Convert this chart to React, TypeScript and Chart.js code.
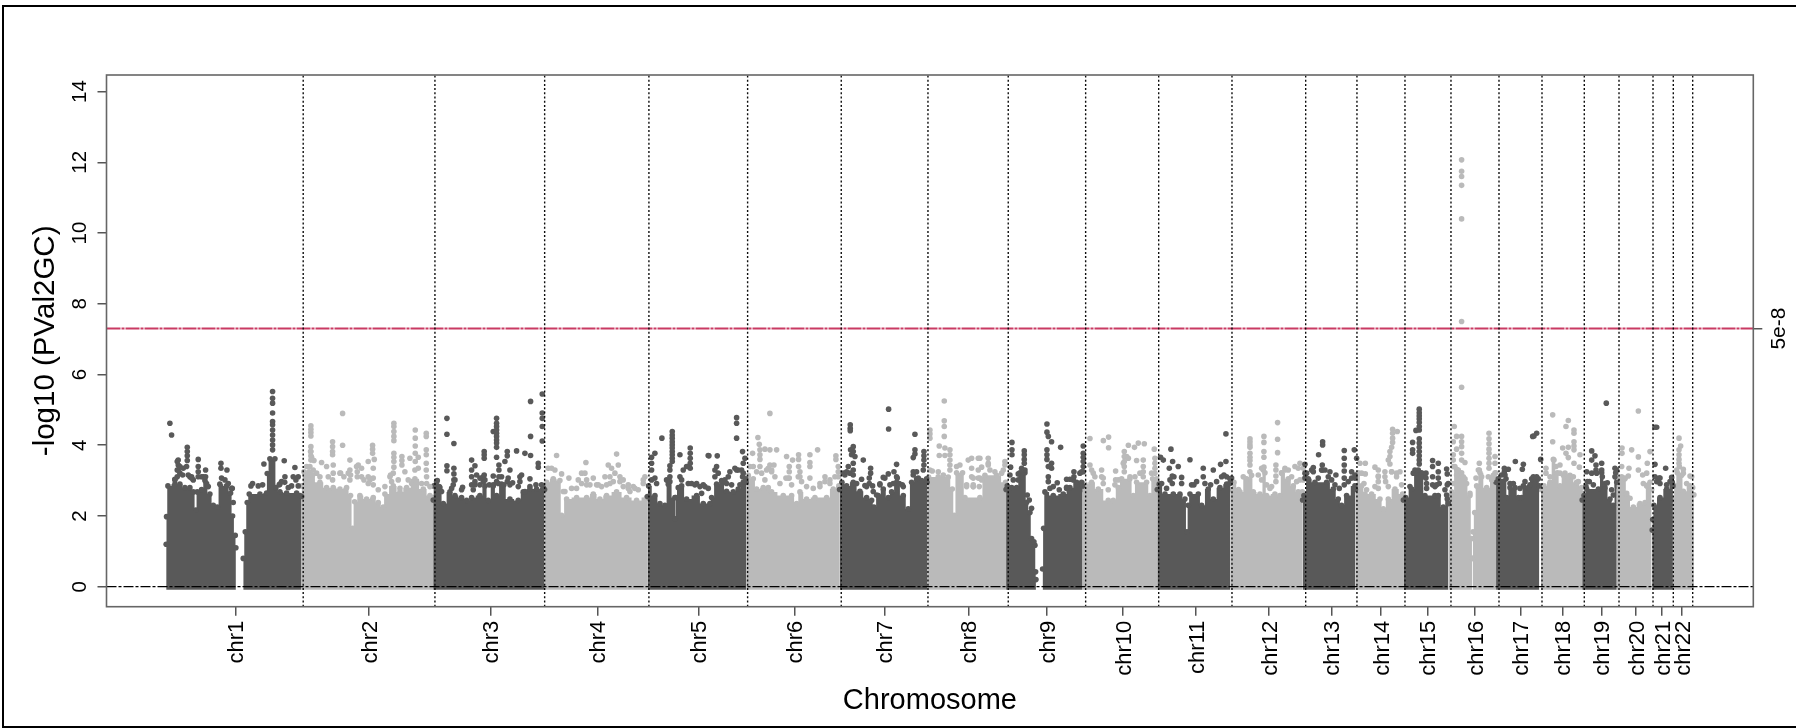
import React, { useEffect, useRef } from "react";
import { Chart, registerables } from "chart.js";

Chart.register(...registerables);

const chromosomeNames = ["chr1","chr2","chr3","chr4","chr5","chr6","chr7","chr8","chr9","chr10","chr11","chr12","chr13","chr14","chr15","chr16","chr17","chr18","chr19","chr20","chr21","chr22"];
const chromosomeCentres = [127.3,373,595.6,792.3,977,1153,1318.7,1473,1616.5,1756.5,1890,2024,2139.3,2229.7,2315.4,2401.8,2486,2562.6,2633.6,2697.4,2745,2782];
const chromosomeBoundaries = [251.9,493.6,694.9,886.2,1067.3,1239.1,1398.2,1545.5,1687.5,1821.5,1956,2091.2,2185.3,2273.4,2357.8,2445.9,2524.8,2602.4,2666.1,2728.5,2765.7,2801.3];
const yTickValues = [0,2,4,6,8,10,12,14];
const genomeWideLine = 7.3;
const genomeWideLabel = "5e-8";

// Upper edge of the dense mass of SNPs: [genome position in Mb, -log10 p]
const chr1Left = [[0.5,1.2],[1.2,1.98],[3.7,2.85],[16.5,2.9],[25.7,2.9],[34.9,2.8],[44,2.8],[50.2,2.68],[55,2.17],[57.5,2.68],[65.5,2.75],[71.6,3.0],[80.7,2.62],[86.9,2.3],[94.2,2.25],[99,2.9],[111.3,2.85],[118.7,2.65],[122.3,2.0],[127.2,1.45],[128.4,1.1]];
const chr1Right = [[141.9,0.8],[145.6,1.55],[149.2,2.38],[152.9,2.62],[172.5,2.62],[184.7,2.65],[185.9,3.2],[190.8,3.62],[200,3.62],[201.8,2.8],[209.2,2.68],[221.4,2.65],[239.8,2.65],[245.9,2.58],[249,2.55]];
const chr2 = [[249,2.85],[253.2,3.25],[264.2,3.22],[282.6,2.95],[294.8,2.8],[307,2.8],[319.3,2.76],[331.5,2.8],[338.8,2.58],[342.5,1.65],[346.2,2.4],[356,2.58],[368.2,2.48],[380.4,2.52],[389.6,2.38],[398.8,2.25],[401.8,2.62],[417.1,2.85],[429.4,2.68],[441.6,2.8],[456.9,3.05],[472.2,2.76],[484.4,2.58],[490.5,2.52],[491.7,2.45]];
const chr3 = [[490.5,2.45],[491.7,2.85],[497.9,3.0],[502.7,2.8],[508.9,2.35],[521.1,2.68],[530.3,2.58],[542.5,2.52],[551.7,2.44],[560.9,2.52],[576.1,2.58],[585.3,2.85],[591.4,2.44],[600.6,2.85],[606.7,2.58],[615.9,2.9],[631.2,2.48],[646.5,2.44],[655.6,2.68],[667.9,2.76],[680.1,2.76],[692.3,2.8],[694.8,2.75]];
const chr4 = [[695,2.85],[698.5,2.95],[710.7,3.05],[722.9,3.0],[726,2.02],[735.2,2.48],[753.5,2.52],[771.9,2.52],[784.1,2.62],[796.3,2.48],[808.5,2.58],[826.9,2.68],[845.2,2.52],[863.6,2.44],[881.9,2.52],[883.5,2.5]];
const chr5 = [[883.5,2.55],[885.6,2.85],[897.2,2.58],[906.4,2.35],[915.6,2.3],[921.7,2.9],[933.9,2.52],[934.5,1.92],[935.5,2.52],[940,2.8],[946.2,2.85],[955.3,2.48],[973.7,2.58],[985.9,2.35],[998.1,2.35],[1001.2,2.52],[1010.4,2.9],[1019.6,3.0],[1028.7,2.7],[1041,2.68],[1050.1,2.76],[1059.3,2.95],[1063.6,3.05],[1064.5,2.95]];
const chr6 = [[1064.5,2.95],[1068.5,3.15],[1077.7,3.05],[1083.8,2.76],[1096,2.8],[1105.2,2.8],[1111.3,2.68],[1132.7,2.58],[1148,2.58],[1157.2,2.35],[1163.3,2.68],[1175.5,2.48],[1190.8,2.52],[1212.2,2.52],[1224.4,2.76],[1234.8,2.85],[1236,2.75]];
const chr7 = [[1236,2.75],[1240.3,2.95],[1248.9,2.85],[1261.1,2.95],[1273.4,2.7],[1285.6,2.52],[1294.8,2.44],[1299.1,2.25],[1307,2.58],[1316.2,2.76],[1325.4,2.52],[1331.5,2.68],[1340.6,2.95],[1352.9,2.58],[1362,2.2],[1368.2,2.95],[1377.3,3.05],[1386.5,3.0],[1395.7,3.05],[1396.5,2.95]];
const chr8 = [[1396.5,2.95],[1399.3,3.1],[1435.4,3.1],[1442.8,2.76],[1446.5,2.02],[1450.7,3.22],[1461.7,3.22],[1466,2.52],[1493.5,2.52],[1502.7,3.15],[1524.1,3.15],[1540.6,2.95],[1541.5,2.85]];
const chr9Left = [[1541.5,2.75],[1543.7,2.85],[1551.7,2.8],[1560.8,2.8],[1566.9,3.22],[1576.1,3.22],[1579.2,2.38],[1585.3,2.1],[1588.3,1.36],[1594.5,1.17],[1595.7,0.42],[1596.3,0.2]];
const chr9Right = [[1608.5,0.5],[1610.4,1.65],[1612.8,2.68],[1628.1,2.58],[1646.4,2.62],[1658.7,2.8],[1670.9,2.95],[1680.1,2.95],[1682,2.85]];
const chr10 = [[1682,2.75],[1686.2,2.9],[1698.4,2.95],[1710.7,2.76],[1729,2.44],[1738.2,2.44],[1747.4,2.8],[1753.5,3.05],[1768.8,3.05],[1774.9,2.58],[1781,2.95],[1799.3,2.95],[1805.5,2.58],[1810.4,3.05],[1817.7,3.05],[1819,2.95]];
const chr11 = [[1819,2.75],[1822.6,2.9],[1833,2.62],[1848.3,2.62],[1860.5,2.62],[1869.7,2.48],[1873.4,1.55],[1875.8,2.3],[1878.9,2.62],[1894.2,2.62],[1900.3,2.3],[1912.5,2.76],[1921.7,2.48],[1933.9,2.8],[1946.1,2.9],[1952.2,3.05],[1953,2.95]];
const chr12 = [[1953,2.75],[1959.6,2.95],[1968,2.75],[1970.6,2.68],[1982.8,3.05],[1992,3.15],[1995,2.68],[2007.3,2.62],[2016.5,3.22],[2019.5,2.58],[2034.8,2.62],[2044,2.58],[2047,3.22],[2059.3,3.05],[2068.5,2.85],[2077.6,2.68],[2085,2.68],[2085.6,2.55]];
const chr13 = [[2085.6,2.45],[2088,2.58],[2096,3.05],[2108.2,2.95],[2129.6,2.95],[2141.8,2.76],[2151,2.48],[2157.1,2.3],[2166.3,2.58],[2181.6,2.85],[2182.5,2.75]];
const chr14 = [[2182.5,2.85],[2187.7,3.22],[2193.8,2.85],[2200,2.62],[2212.2,2.62],[2227.5,2.48],[2233.6,2.2],[2242.8,2.48],[2255,2.76],[2269.1,2.62],[2270.5,2.55]];
const chr15 = [[2270.5,2.45],[2274.6,2.52],[2285.6,2.76],[2294.7,3.22],[2303.9,3.22],[2310,2.58],[2328.4,2.58],[2334.5,2.58],[2343.7,2.25],[2351,2.48],[2353,2.35]];
const chr16Left = [[2353,2.55],[2359,2.68],[2368.1,3.32],[2377.3,3.22],[2383.4,3.05],[2392.6,2.58],[2395.7,1.36],[2396.9,0.8]];
const chr16Right = [[2397.6,0.8],[2398.2,1.55],[2401.3,2.1],[2404.9,2.85],[2411,3.22],[2423.3,2.8],[2435.5,3.15],[2439.8,3.22],[2440.5,3.05]];
const chr17 = [[2440.5,2.95],[2444.7,3.05],[2458.8,3.05],[2460,2.52],[2466.1,2.8],[2475.3,2.8],[2481.4,2.52],[2487.5,2.52],[2490.6,2.85],[2499.7,2.8],[2505.8,3.05],[2518.1,3.05],[2519.9,2.85]];
const chr18 = [[2523,2.75],[2528.5,2.85],[2539.5,2.95],[2545.6,3.6],[2552.9,3.22],[2557.8,2.85],[2564,3.15],[2576.2,3.15],[2588.4,2.95],[2597.6,2.8],[2598.5,2.65]];
const chr19 = [[2598.5,2.45],[2601.9,2.58],[2606.8,2.76],[2628.2,2.76],[2634.3,3.22],[2640.4,2.8],[2649.6,2.48],[2655.7,2.3],[2660,3.22],[2662,2.95]];
const chr20 = [[2662,2.85],[2667.3,3.05],[2677,3.05],[2680.2,2.58],[2692.4,2.25],[2704.6,2.35],[2713.8,2.38],[2716.8,2.85],[2723,2.95],[2726,2.75]];
const chr21 = [[2727,1.6],[2727.9,1.9],[2730.3,2.3],[2741.3,2.52],[2753.5,2.76],[2763.9,2.95],[2765,2.85]];
const chr22 = [[2765,2.45],[2769.4,2.85],[2773.1,3.22],[2781.1,3.15],[2784.1,2.7],[2796.4,2.85],[2801.3,2.8],[2803.5,2.6]];

// Individual SNPs standing above the mass: [genome position in Mb, -log10 p]
const chr1Snps = [[7.3,4.62],[10.4,4.29],[39.2,3.94],[39.2,3.82],[39.2,3.7],[39.2,3.57],[22.6,3.58],[22.6,3.44],[22.6,3.3],[25.7,3.4],[31.8,3.35],[37.9,3.4],[59.3,3.6],[59.3,3.4],[59.3,3.25],[59.3,3.11],[72.8,3.3],[101,3.49],[101,3.35],[112,3.3],[121.7,2.78],[123.5,2.38],[16.5,3.04],[44,3.11],[47,3.07],[195.7,5.52],[195.7,5.33],[195.7,5.19],[195.7,4.91],[195.7,4.67],[195.7,4.58],[195.7,4.43],[195.7,4.29],[195.7,4.15],[195.7,4.01],[195.7,3.87],[217.1,3.56],[236.7,3.37],[179.8,3.47],[159,2.92],[156,2.85],[169.4,2.85],[177.4,2.88],[218.4,3.11],[212.2,2.97],[208,2.88],[233.6,3.11],[242.8,3.11],[238.5,3.02]];
const chr1Shoulder = [[20.8,3.54],[20.8,3.3],[20.8,3.11],[25.7,3.21],[30.6,3.16],[16.5,3.02],[41,3.16],[47.1,3.11],[50.2,3.02],[65.5,3.11],[68.5,3.11],[72.8,3.11],[74.6,2.92],[77.7,2.83],[102.1,3.07],[108.3,3.02],[114.4,2.92],[120.5,2.78],[209,2.9],[218,2.95],[224.5,2.8],[230.6,2.85],[242.8,2.85]];
const chr2Snps = [[266,4.55],[266,4.45],[266,4.36],[266,4.26],[266,3.96],[266,3.82],[266,3.7],[266,3.58],[324.2,4.9],[324.2,4],[305.8,4.1],[305.8,3.96],[305.8,3.82],[305.8,3.73],[285.6,3.51],[294.8,3.4],[307,3.44],[337.6,3.58],[319.3,3.21],[337.6,3.3],[352.9,3.44],[359,3.35],[379.2,4],[379.2,3.89],[379.2,3.77],[382.3,3.6],[371.2,3.54],[380.4,3.35],[371.2,3.11],[380.4,3.07],[418.3,4.62],[418.3,4.53],[418.3,4.39],[418.3,4.25],[418.3,4.13],[418.3,3.77],[418.3,3.66],[418.3,3.54],[418.3,3.38],[433,3.68],[433,3.57],[433,3.44],[412.2,3.16],[438.5,3.25],[447.7,3.63],[457.5,4.43],[457.5,4.2],[457.5,3.98],[457.5,3.77],[463,3.66],[457.5,3.54],[477.7,4.34],[477.7,4.25],[477.7,3.87],[477.7,3.73],[477.7,3.49],[477.7,3.3],[401.8,2.83]];
const chr2Shoulder = [[258.1,3.4],[264.2,3.4],[270.3,3.3],[276.5,3.21],[282.6,3.11],[262.4,3.25],[269.1,3.16],[267.3,3.66],[271.6,3.57],[265.4,3.82],[297.9,3.11],[307,3.21],[305.8,3.02],[320.5,3.21],[326.6,3.11],[334.6,3.21],[338.8,3.16],[337.6,3.02],[349.8,3.4],[351.1,3.25],[351.1,3.11],[359,3.11],[363.3,3.02],[371.2,2.92],[374.3,3.02],[380.4,2.88],[389.6,2.74],[411,3.11],[417.1,3.21],[414.1,2.97],[426.3,3.02],[429.4,2.78],[444.6,3.02],[450.8,2.92],[456.9,3.3],[463,3.35],[459.9,2.97],[469.1,2.92],[478.3,3.11],[478.3,2.92],[484.4,2.83]];
const chr3Snps = [[515.6,4.76],[515.6,4.31],[528.4,4.05],[515.6,3.42],[515.6,3.28],[528.4,3.35],[528.4,3.19],[528.4,3.02],[544.3,2.81],[560.9,3.58],[567,3.42],[560.9,3.3],[560.9,3.11],[570,3.16],[567,2.97],[584,3.82],[584,3.73],[584,3.63],[584,3.16],[600.6,4.39],[606.7,4.76],[606.7,4.62],[606.7,4.53],[606.7,4.43],[606.7,4.34],[606.7,4.25],[606.7,4.15],[606.7,4.06],[606.7,3.94],[606.7,3.66],[611,3.44],[611,3.3],[611,3.11],[600.6,3.13],[626.3,3.82],[626.3,3.7],[622,3.54],[631.2,3.3],[628,3.07],[643.4,3.84],[658.7,3.77],[669.1,3.71],[683.2,3.49],[683.2,3.38],[669.1,5.24],[669.1,4.25],[690.5,5.45],[690.5,4.91],[690.5,4.76],[690.5,4.53],[690.5,4.12],[667.9,3.05],[649.5,3.11],[652.6,3.16]];
const chr3Shoulder = [[496.6,2.97],[501.5,2.83],[505.8,2.69],[527.2,2.88],[524.2,2.78],[530.3,3.02],[542.5,2.74],[560.9,2.88],[563.9,2.74],[567,2.88],[576.1,2.88],[582.3,2.97],[585.3,3.02],[576.1,3.07],[582.3,3.11],[593.3,2.88],[600.6,2.88],[606.7,2.97],[609.8,2.92],[615.9,3.11],[626.3,2.97],[620.2,2.88],[631.2,2.88],[636.1,2.94],[646.5,2.83],[649.5,2.97],[658.7,2.69],[667.9,2.83],[678.9,2.88],[689.3,2.88]];
const chr4Snps = [[716.8,3.71],[701.5,3.35],[707.6,3.35],[713.7,3.3],[726,3.19],[739.4,3.07],[770.6,3.51],[762.7,3.21],[768.8,3.21],[756.6,3.02],[771.9,3.02],[784.1,3.07],[793.3,2.88],[811.6,3.44],[817.7,3.35],[805.5,3.11],[826.9,3.75],[830,3.44],[823.8,3.21],[833,3.11],[839,3.02],[814.7,2.92],[848.3,2.88],[860.5,2.78],[875.8,3.02],[851.4,2.69]];
const chr4Shoulder = [[732.1,2.69],[744.3,2.78],[753.5,2.78],[762.7,2.92],[771.9,2.88],[778,2.88],[790.2,2.88],[799.4,2.83],[808.5,2.88],[814.7,3.11],[820.8,2.97],[833,2.97],[839.1,2.83],[848.3,2.78],[857.5,2.83],[866.6,2.74],[875.8,2.92],[878.9,3.11],[729,2.69]];
const chr5Snps = [[910,4.2],[929,4.39],[929,4.29],[929,4.2],[929,4.1],[929,4.01],[929,3.92],[929,3.82],[929,3.73],[929,3.63],[929,3.54],[924.7,3.42],[924.7,3.3],[924.7,3.11],[943.1,3.73],[897.2,3.77],[891.1,3.66],[891.1,3.49],[891.1,3.3],[897.2,3.07],[962,3.92],[962,3.77],[962,3.63],[962,3.49],[962,3.35],[949.2,3.3],[955.3,3.4],[995,3.71],[973.7,2.92],[985.9,2.88],[1047.1,4.78],[1047.1,4.62],[1047.1,4.2],[1058,3.82],[996.3,3.7],[1011.6,3.7],[1010.4,3.4],[1007.3,3.3],[1034.8,3.25],[1044,3.35],[1062.4,3.63],[1059.3,3.49],[1050.1,3.3],[1058,3.11],[1053.2,2.88],[1028.7,2.92]];
const chr5Shoulder = [[891.1,3.02],[900.3,2.92],[918.6,3.02],[924.7,2.97],[943.1,3.11],[946.2,3.02],[958.4,2.92],[964.5,2.92],[970.6,2.88],[979.8,2.83],[989,2.83],[995.1,2.78],[982.9,2.64],[1007.3,3.11],[1013.4,3.21],[1025.7,3.02],[1031.8,3.11],[1037.9,2.88],[1047.1,3.3],[1056.2,3.3],[1059.3,3.21],[1062.4,2.97]];
const chr6Snps = [[1108.2,4.9],[1086.2,4.22],[1088.7,4.03],[1076.4,3.77],[1089.9,3.87],[1099,3.89],[1108.2,3.87],[1120.5,3.87],[1089.9,3.73],[1089.9,3.6],[1089.9,3.4],[1108.2,3.44],[1115.6,3.44],[1102.1,3.3],[1111.3,3.3],[1138.8,3.68],[1149.8,3.58],[1160.8,3.73],[1160.8,3.6],[1160.8,3.4],[1163.3,3.25],[1163.3,3.11],[1143.7,3.4],[1143.7,3.25],[1137.6,3.07],[1143.7,3.07],[1181.6,3.73],[1181.6,3.51],[1181.6,3.4],[1181.6,3.07],[1195.7,3.87],[1209.2,3.11],[1200,2.92],[1218.3,3.02],[1229.3,3.7],[1229.3,3.6],[1233.6,3.4],[1233.6,3.25]];
const chr6Shoulder = [[1071.5,3.4],[1077.7,3.4],[1083.8,3.25],[1093,3.21],[1099,3.02],[1105.2,3.35],[1111.3,3.25],[1117.4,3.11],[1126.6,2.92],[1141.9,3.07],[1148,2.88],[1160.2,3.11],[1166.3,2.97],[1175.5,2.83],[1187.7,2.78],[1200,2.83],[1209.2,2.97],[1218.3,2.92],[1227.5,3.11],[1233.6,3.11]];
const chr7Snps = [[1255.6,4.58],[1255.6,4.48],[1255.6,4.41],[1261.1,3.96],[1261.1,3.82],[1256.2,3.87],[1264.2,3.68],[1258,3.73],[1279.5,3.58],[1261.1,3.49],[1252,3.4],[1261.1,3.3],[1249,3.25],[1293,3.35],[1293,3.21],[1290.5,3.07],[1276.4,3.04],[1340.6,3.46],[1326,5.02],[1326,4.46],[1374.3,4.31],[1374.3,3.87],[1374.3,3.75],[1371.2,3.65],[1390.8,3.82],[1390.8,3.7],[1390.8,3.58],[1390.8,3.44],[1335.8,3.25],[1325.4,3.19],[1316.2,3.09],[1341.9,3.07],[1371.2,3.25],[1377.3,3.25],[1282.5,2.86],[1296.6,2.85],[1310,2.91],[1351,2.88]];
const chr7Shoulder = [[1245.8,3.16],[1255,3.21],[1261.1,3.16],[1267.3,2.92],[1285.6,2.83],[1290.5,2.92],[1297.8,2.69],[1310,2.88],[1319.2,3.07],[1328.4,2.88],[1334.5,2.92],[1345.5,2.92],[1352.9,2.83],[1371.2,3.16],[1380.4,3.07],[1389.6,3.3],[1242.8,3.21],[1340.6,3.11],[1303.9,2.59]];
const chr8Snps = [[1428.1,5.25],[1428.1,4.69],[1428.1,4.53],[1428.1,4.25],[1401.8,4.43],[1401.8,4.32],[1401.8,4.2],[1418.9,3.98],[1429.3,3.92],[1418.9,3.71],[1429.3,3.71],[1438.5,3.87],[1438.5,3.73],[1438.5,3.58],[1438.5,3.44],[1438.5,3.3],[1406.1,3.27],[1417.1,3.25],[1472.1,3.58],[1478.3,3.63],[1490.5,3.63],[1478.3,3.35],[1469.1,2.83],[1481.3,2.88],[1493.5,3.63],[1508.8,3.63],[1496.6,3.38],[1481.3,3.07],[1493.5,3.07],[1508.8,3.49],[1539.4,3.54],[1539.4,3.44]];
const chr8Shoulder = [[1401.8,3.3],[1417.1,3.11],[1426.3,3.16],[1450.7,3.4],[1456.8,3.44],[1469.1,2.88],[1481.3,2.83],[1490.5,3.3],[1478.3,3.11],[1492.3,2.83],[1490.5,3.07],[1496.6,3.02],[1481.3,2.83],[1508.8,3.44],[1511.9,3.3],[1521,3.25],[1533.3,3.21],[1536.4,3.3]];
const chr9Snps = [[1552.3,4.08],[1552.3,3.87],[1552.3,3.73],[1549.8,3.38],[1574.9,3.84],[1574.9,3.73],[1574.9,3.6],[1574.9,3.49],[1570,3.35],[1563.9,3.19],[1616.5,4.6],[1616.5,4.37],[1619,4.25],[1625,4.1],[1641.6,3.94],[1616.5,3.87],[1616.5,3.73],[1616.5,3.6],[1625,3.49],[1625,3.35],[1619,3.4],[1619,3.11],[1635.4,2.94],[1652.6,3.04],[1658.7,3.04],[1666,3.25],[1666,3.11],[1683.1,3.98],[1683.1,3.77],[1683.1,3.66],[1683.1,3.54],[1683.1,3.4],[1680.1,3.25],[1652.6,2.81]];
const chr9Shoulder = [[1548.6,3.16],[1554.7,3.02],[1563.9,3.02],[1570,3.21],[1576.1,3.3],[1580.4,2.59],[1584.1,2.45],[1588.3,2.22],[1592.6,1.27],[1619,2.97],[1622,2.78],[1628.1,2.83],[1639.1,2.74],[1652.6,2.78],[1664.8,3.02],[1677,3.21],[1683.1,3.25]];
const chr10Snps = [[1695.4,4.19],[1720,4.13],[1729.6,4.23],[1729.6,3.93],[1765.9,4],[1777.1,3.94],[1784.1,4.06],[1795.1,4.04],[1813.4,3.89],[1758.4,3.82],[1758.4,3.68],[1758.4,3.54],[1758.4,3.4],[1758.4,3.25],[1765.9,3.63],[1781,3.57],[1793.2,3.58],[1793.2,3.4],[1793.2,3.25],[1814.6,3.63],[1814.6,3.49],[1814.6,3.35],[1695.4,3.44],[1698.4,3.3],[1716.8,3.3],[1719.8,3.07],[1742.5,3.27],[1742.5,3.02]];
const chr10Shoulder = [[1701.5,3.21],[1704.5,3.11],[1716.8,3.11],[1719.8,2.92],[1729,2.74],[1741.2,2.88],[1747.4,3.02],[1756.5,3.49],[1762.7,3.68],[1768.8,3.11],[1778,3.11],[1787.1,3.21],[1793.2,3.11],[1808.5,3.21],[1814.6,3.21]];
const chr11Snps = [[1844,3.89],[1825,3.66],[1830,3.58],[1847.1,3.54],[1841,3.35],[1857.4,3.4],[1846.5,3.13],[1863.6,3.09],[1846.5,2.92],[1878.9,3.59],[1944.9,4.32],[1903.3,3.35],[1903.3,3.11],[1886.2,2.88],[1921.7,3.3],[1935.1,3.46],[1944.9,3.54],[1941.2,3.16],[1955.3,3.07]];
const chr11Shoulder = [[1826.9,2.92],[1836,2.78],[1842.2,3.02],[1849.5,3.11],[1863.6,2.92],[1881.9,2.88],[1891.1,2.97],[1906.4,2.92],[1916.8,2.88],[1927.8,2.97],[1937,3.11],[1946.1,3.11],[1952.2,2.92]];
const chr12Snps = [[1989,4.18],[1989,4.1],[1989,4.01],[1989,3.94],[1989,3.77],[1989,3.66],[1989,3.57],[1989,3.44],[2014.6,4.25],[2014.6,4.08],[2014.6,3.82],[2014.6,3.66],[2014.6,3.38],[2039.7,4.64],[2039.7,4.17],[2039.7,3.79],[2036.6,3.44],[2036.6,3.3],[2036.6,3.13],[2004.2,3.16],[2010.4,3.35],[2025.6,2.78],[2080.7,3.49],[2071.5,3.4],[2077.6,3.35],[2086.8,3.35],[2053.2,3.3]];
const chr12Shoulder = [[1976.7,3.11],[1988.9,3.25],[2010.4,3.02],[2013.4,3.3],[2019.5,2.88],[2028.7,2.83],[2036.6,2.97],[2047,3.21],[2053.2,3.35],[2059.3,3.3],[2065.4,3.11],[2074.6,2.97],[2080.7,3.02],[2086.8,3.02]];
const chr13Snps = [[2122.3,4.1],[2122.3,4.01],[2114.9,3.73],[2089.9,3.46],[2089.9,3.21],[2089.9,3.07],[2105.2,3.37],[2105.2,3.25],[2121.7,3.44],[2121.7,3.3],[2126.6,3.3],[2135.7,3.25],[2146.7,3.16],[2162,3.85],[2162,3.63],[2162,3.44],[2162,3.27],[2180.4,3.87],[2184.7,3.63],[2175.5,3.25],[2181.6,3.16],[2162,3.07],[2162,2.88]];
const chr13Shoulder = [[2092.9,3.21],[2102.1,3.3],[2114.3,3.07],[2120.4,3.3],[2132.7,3.11],[2138.8,3.02],[2144.9,2.88],[2152.9,2.78],[2169.4,2.97],[2175.5,3.07],[2181.6,3.07]];
const chr14Snps = [[2250.7,4.45],[2259.3,4.39],[2250.7,4.34],[2250.7,4.2],[2250.7,4.08],[2248.9,3.94],[2245.8,3.82],[2245.8,3.68],[2242.8,3.58],[2245.8,3.47],[2200.6,3.49],[2200.6,3.19],[2198.1,2.92],[2218.3,3.38],[2224.4,3.3],[2224.4,3.13],[2224.4,2.97],[2224.4,2.78],[2236.6,3.25],[2236.6,3.11],[2248.9,3.25],[2258,3.21],[2264.2,3.25]];
const chr14Shoulder = [[2190.8,3.49],[2193.8,3.21],[2203,2.74],[2218.3,2.83],[2224.4,3.11],[2237.9,2.97],[2242.8,2.83],[2248.9,3.25],[2258,3.11],[2267.2,2.88]];
const chr15Snps = [[2299.6,5.02],[2299.6,4.92],[2299.6,4.83],[2299.6,4.74],[2299.6,4.64],[2299.6,4.53],[2299.6,4.43],[2299.6,4.18],[2299.6,4.06],[2299.6,3.94],[2299.6,3.82],[2299.6,3.7],[2299.6,3.58],[2299.6,3.47],[2293.5,4.42],[2287.4,4.08],[2287.4,3.87],[2287.4,3.77],[2324.1,3.57],[2334.5,3.49],[2324.1,3.4],[2334.5,3.25],[2324.1,3.11],[2334.5,3.07],[2331.4,2.88],[2311.9,3.21],[2311.9,3.07],[2313.1,2.78],[2349.8,3.33],[2351,3.19],[2352.8,2.92],[2349.8,2.59]];
const chr15Shoulder = [[2282.5,2.83],[2288.6,3.21],[2291.7,3.3],[2297.8,3.3],[2307,3.11],[2313.1,2.92],[2324.1,2.88],[2328.4,2.83],[2336.3,2.92],[2346.7,2.74],[2351,2.88]];
const chr16Snps = [[2377.3,12.07],[2377.3,11.75],[2377.3,11.6],[2377.3,11.35],[2377.3,10.4],[2377.3,7.5],[2377.3,5.64],[2363.8,4.53],[2368.1,4.25],[2362,4.1],[2377.3,4.25],[2377.3,4.1],[2377.3,3.96],[2368.1,3.89],[2362,3.73],[2362,3.58],[2383.4,3.51],[2368.1,3.16],[2362,3.4],[2377.3,3.77],[2377.3,3.58],[2409.8,3.49],[2409.8,3.3],[2427.6,4.34],[2427.6,4.18],[2427.6,4.04],[2427.6,3.89],[2427.6,3.77],[2427.6,3.63],[2427.6,3.49],[2427.6,3.35],[2438.6,3.68],[2438.6,3.49],[2403.7,3.07]];
const chr16Shoulder = [[2371.2,3.3],[2380.4,3.11],[2386.5,2.92],[2392.6,2.64],[2365,3.4],[2362,2.92],[2408,3.3],[2414.1,3.11],[2426.3,3.11],[2432.5,3.02],[2438.6,3.21]];
const chr17Snps = [[2510.1,4.26],[2515,4.34],[2507.7,4.25],[2522.4,3.6],[2475.9,3.54],[2490.6,3.46],[2488.7,3.32],[2455.7,3.35],[2463,3.32],[2455.7,3.25]];
const chr17Shoulder = [[2450.8,3.16],[2456.9,3.16],[2466.1,2.92],[2472.2,2.92],[2484.4,2.78],[2493.6,2.97],[2502.8,2.88],[2508.9,3.11],[2515,3.11]];
const chr18Snps = [[2544.4,4.86],[2544.4,4.1],[2573.1,4.7],[2568.8,4.53],[2583.5,4.43],[2583.5,4.34],[2583.5,4.1],[2583.5,3.98],[2583.5,3.87],[2562.7,3.92],[2573.1,3.94],[2568.8,3.77],[2573.1,3.65],[2583.5,3.49],[2594.5,3.73],[2593.3,3.38],[2532.1,3.35],[2557.8,3.44]];
const chr18Shoulder = [[2532.1,3.21],[2539.5,3.11],[2546.8,3.58],[2550.5,3.4],[2557.8,3.21],[2567,3.21],[2573.1,3.11],[2582.3,3.11],[2591.5,2.97]];
const chr19Snps = [[2642.8,5.19],[2616,3.84],[2622,3.7],[2616,3.58],[2623.9,3.44],[2623.9,3.3],[2606.8,3.25],[2616,3.21],[2625.1,3.21],[2608,2.97],[2634.3,3.49],[2658.7,3.35],[2661.8,3.3],[2644.7,2.94]];
const chr19Shoulder = [[2605.5,2.83],[2611.6,2.97],[2619,2.88],[2634.3,3.3],[2635.5,3.11],[2640.4,2.92],[2655.7,2.59],[2658.7,3.11],[2652.6,2.74]];
const chr20Snps = [[2701.6,4.97],[2671.6,3.92],[2671.6,3.77],[2689.3,3.87],[2701.6,3.67],[2723,3.82],[2718,3.49],[2671,3.4],[2684.4,3.35],[2701.6,3.3],[2709.5,3.16],[2683.2,3.13]];
const chr20Shoulder = [[2671,3.11],[2677,3.07],[2680.2,2.64],[2686.3,2.5],[2716.9,3.21],[2719.9,2.88],[2710.7,2.92]];
const chr21Snps = [[2732.1,4.51],[2735.2,4.51],[2732.1,3.46],[2751.7,3.35],[2740,3.07],[2735.2,2.97],[2741.3,2.92],[2762.7,3.09]];
const chr21Shoulder = [[2732.1,3.11],[2741.3,3.07],[2753.5,2.88],[2759.7,2.97]];
const chr22Snps = [[2776.2,4.2],[2779.2,3.98],[2776.2,3.87],[2776.2,3.73],[2776.2,3.6],[2776.2,3.49],[2784.1,3.32],[2796.4,3.13]];
const chr22Shoulder = [[2771.9,3.3],[2776.8,3.4],[2784.1,3.21],[2790.2,2.92],[2799.4,3.11]];

const darkMasses = [chr1Left, chr1Right, chr3, chr5, chr7, chr9Left, chr9Right, chr11, chr13, chr15, chr17, chr19, chr21];
const lightMasses = [chr2, chr4, chr6, chr8, chr10, chr12, chr14, chr16Left, chr16Right, chr18, chr20, chr22];
const darkSnps = [chr1Snps, chr1Shoulder, chr3Snps, chr3Shoulder, chr5Snps, chr5Shoulder, chr7Snps, chr7Shoulder, chr9Snps, chr9Shoulder, chr11Snps, chr11Shoulder, chr13Snps, chr13Shoulder, chr15Snps, chr15Shoulder, chr17Snps, chr17Shoulder, chr19Snps, chr19Shoulder, chr21Snps, chr21Shoulder];
const lightSnps = [chr2Snps, chr2Shoulder, chr4Snps, chr4Shoulder, chr6Snps, chr6Shoulder, chr8Snps, chr8Shoulder, chr10Snps, chr10Shoulder, chr12Snps, chr12Shoulder, chr14Snps, chr14Shoulder, chr16Snps, chr16Shoulder, chr18Snps, chr18Shoulder, chr20Snps, chr20Shoulder, chr22Snps, chr22Shoulder];

const DARK = "#595959";
const LIGHT = "#bababa";
const X_MIN = -109;
const X_MAX = 2912.5;
const Y_MIN = -0.566;
const Y_MAX = 14.47;
const MASS_FLOOR = -0.09;
const FONT = "'Liberation Sans', Arial, sans-serif";

const toPoints = (pairs: number[][]) => pairs.map(([x, y]) => ({ x, y }));

function massDataset(pairs: number[][], color: string) {
  const pts = toPoints(pairs);
  const data = [{ x: pts[0].x, y: MASS_FLOOR }, ...pts, { x: pts[pts.length - 1].x, y: MASS_FLOOR }];
  return {
    type: "line",
    data,
    borderWidth: 0,
    borderColor: color,
    backgroundColor: color,
    pointRadius: data.map((d) => (d.y === MASS_FLOOR ? 0 : 2.8)),
    pointBorderWidth: 0,
    pointBackgroundColor: color,
    fill: { value: MASS_FLOOR },
    stepped: "middle",
    order: 5,
  };
}

function snpDataset(pairs: number[][], color: string) {
  return {
    type: "scatter",
    data: toPoints(pairs),
    backgroundColor: color,
    borderWidth: 0,
    pointRadius: 2.8,
    showLine: false,
    order: 4,
  };
}

function ruleDataset(data: { x: number; y: number }[], color: string, width: number, dash: number[]) {
  return {
    type: "line",
    data,
    borderColor: color,
    borderWidth: width,
    borderDash: dash,
    pointRadius: 0,
    fill: false,
    order: 1,
  };
}

const framePlugin = {
  id: "frame",
  beforeDraw(chart: any) {
    const { ctx, width, height } = chart;
    ctx.save();
    ctx.fillStyle = "#ffffff";
    ctx.fillRect(0, 0, width, height);
    ctx.fillStyle = "#000000";
    ctx.fillRect(2, 5, width - 2, 2);
    ctx.fillRect(2, 5, 2, height - 5);
    ctx.fillRect(2, height - 2, width - 2, 2);
    ctx.restore();
  },
  afterDatasetsDraw(chart: any) {
    const { ctx, chartArea: a } = chart;
    ctx.save();
    ctx.strokeStyle = "#666666";
    ctx.lineWidth = 1.6;
    ctx.strokeRect(a.left, a.top, a.right - a.left, a.bottom - a.top);
    ctx.restore();
  },
};

export default function App() {
  const ref = useRef<HTMLCanvasElement>(null);
  useEffect(() => {
    document.body.style.margin = "0";
    const tickGrid = { display: true, drawOnChartArea: false, drawTicks: true, tickLength: 9, color: "#555555", lineWidth: 1.5 };
    const datasets: any[] = [
      ...chromosomeBoundaries.map((x) =>
        ruleDataset([{ x, y: Y_MIN }, { x, y: Y_MAX }], "#0d0d0d", 1.4, [2, 2.2])
      ),
      ruleDataset([{ x: X_MIN, y: 0 }, { x: X_MAX, y: 0 }], "#000000", 1.3, [10, 2, 3, 2]),
      ruleDataset([{ x: X_MIN, y: genomeWideLine }, { x: X_MAX, y: genomeWideLine }], "#c93a63", 2, [14, 1, 3, 1]),
      ...darkSnps.map((p) => snpDataset(p, DARK)),
      ...lightSnps.map((p) => snpDataset(p, LIGHT)),
      ...darkMasses.map((p) => massDataset(p, DARK)),
      ...lightMasses.map((p) => massDataset(p, LIGHT)),
    ];
    const chart = new Chart(ref.current as HTMLCanvasElement, {
      type: "scatter",
      data: { datasets },
      plugins: [framePlugin],
      options: {
        animation: false,
        responsive: false,
        layout: { padding: { top: 75, left: 0, right: 0, bottom: 0 } },
        plugins: { legend: { display: false }, tooltip: { enabled: false } },
        scales: {
          x: {
            type: "linear",
            min: X_MIN,
            max: X_MAX,
            border: { display: false },
            grid: tickGrid,
            afterBuildTicks: (s: any) => { s.ticks = chromosomeCentres.map((value) => ({ value })); },
            afterFit: (s: any) => { s.height = 728 - 606.7; },
            ticks: {
              autoSkip: false,
              minRotation: 90,
              maxRotation: 90,
              padding: 5,
              labelOffset: 1.5,
              color: "#000000",
              font: { family: FONT, size: 22 },
              callback: (_v: any, i: number) => chromosomeNames[i],
            },
            title: {
              display: true,
              text: "Chromosome",
              color: "#000000",
              font: { family: FONT, size: 29 },
              padding: { top: 0, bottom: 10 },
            },
          },
          y: {
            type: "linear",
            position: "left",
            min: Y_MIN,
            max: Y_MAX,
            border: { display: false },
            grid: tickGrid,
            afterBuildTicks: (s: any) => { s.ticks = yTickValues.map((value) => ({ value })); },
            afterFit: (s: any) => { s.width = 106.5; },
            ticks: {
              minRotation: 90,
              maxRotation: 90,
              crossAlign: "center",
              padding: 6,
              color: "#000000",
              font: { family: FONT, size: 20.5 },
            },
            title: {
              display: true,
              text: "-log10 (PVal2GC)",
              color: "#000000",
              font: { family: FONT, size: 29.5 },
              padding: { top: 28, bottom: 0 },
            },
          },
          yRight: {
            type: "linear",
            position: "right",
            min: Y_MIN,
            max: Y_MAX,
            border: { display: false },
            grid: tickGrid,
            afterBuildTicks: (s: any) => { s.ticks = [{ value: genomeWideLine }]; },
            afterFit: (s: any) => { s.width = 1796 - 1753.3; },
            ticks: {
              minRotation: 90,
              maxRotation: 90,
              crossAlign: "center",
              padding: -4,
              color: "#000000",
              font: { family: FONT, size: 21 },
              callback: () => genomeWideLabel,
            },
          },
        },
      } as any,
    } as any);
    return () => chart.destroy();
  }, []);
  return <canvas ref={ref} width={1796} height={728} style={{ display: "block", width: 1796, height: 728 }} />;
}
